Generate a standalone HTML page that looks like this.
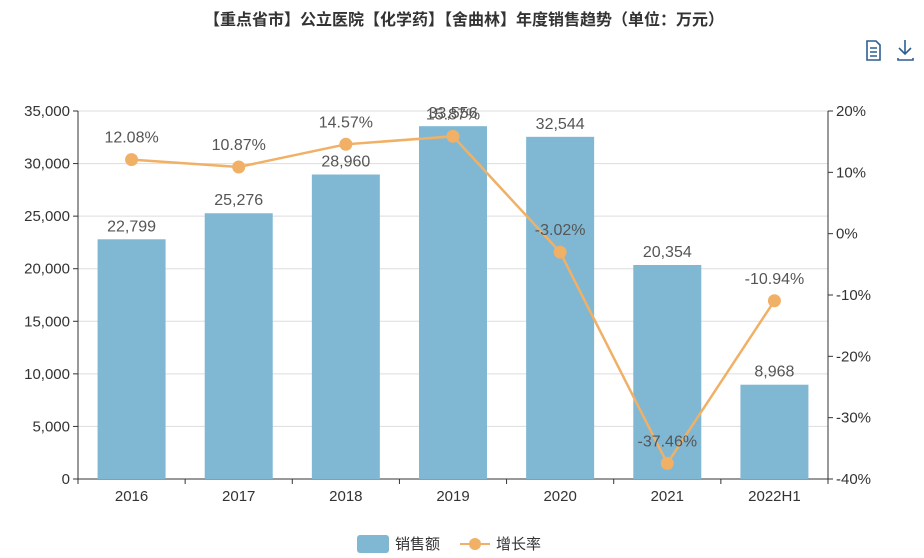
<!DOCTYPE html>
<html><head><meta charset="utf-8"><style>
body{margin:0;background:#fff;}
svg{display:block;font-family:"Liberation Sans","Noto Sans CJK SC",sans-serif;}
</style></head><body>
<svg id="c" width="924" height="558">
<text x="464" y="25" text-anchor="middle" font-size="16" font-weight="bold" fill="#333">【重点省市】公立医院【化学药】【舍曲林】年度销售趋势（单位：万元）</text>
<g fill="none" stroke="#2f5f8f" stroke-width="1.6">
<path d="M867 41h9l4 4v15h-13z"/><path d="M870 48h7M870 52h7M870 56h7"/></g>
<g fill="none" stroke="#2f5f8f" stroke-width="1.6">
<path d="M905 40v14M899 48l6 6 6-6M898 58v2h15v-2"/></g>
<g id="g"></g>
<g>
<rect x="357" y="535" width="32" height="18" rx="3" fill="#80b8d4"/>
<text x="395" y="549" font-size="15" fill="#333">销售额</text>
<line x1="460" y1="544" x2="490" y2="544" stroke="#f0b066" stroke-width="2"/>
<circle cx="475" cy="544" r="6" fill="#f0b066"/>
<text x="496" y="549" font-size="15" fill="#333">增长率</text>
</g>
</svg>
<script>
const categories=["2016","2017","2018","2019","2020","2021","2022H1"];
const sales=[22799,25276,28960,33556,32544,20354,8968];
const growth=[12.08,10.87,14.57,15.87,-3.02,-37.46,-10.94];
const leftTicks=[0,5000,10000,15000,20000,25000,30000,35000];
const rightTicks=[-40,-30,-20,-10,0,10,20];
const L=78,R=828,T=111,B=479;
const y1=v=>B-(v/35000)*(B-T);
const y2=v=>B-((v+40)/60)*(B-T);
const bw=(R-L)/categories.length;
const xc=i=>L+bw*(i+0.5);
const g=document.getElementById('g');
const NS='http://www.w3.org/2000/svg';
function mk(t,a){const e=document.createElementNS(NS,t);for(const k in a)e.setAttribute(k,a[k]);g.appendChild(e);return e;}
const fmt=n=>n.toLocaleString('en-US');
leftTicks.forEach(v=>{
 const l=mk('line',{x1:L,x2:R,y1:y1(v),y2:y1(v),stroke:v===0?'#333':'#ddd'});
 
 
 mk('line',{x1:L-5,x2:L,y1:y1(v),y2:y1(v),stroke:'#333'});
 const t=mk('text',{x:L-8,y:y1(v)+5,'text-anchor':'end','font-size':15,fill:'#333'});t.textContent=fmt(v);
 
 
});
rightTicks.forEach(v=>{
 mk('line',{x1:R,x2:R+5,y1:y2(v),y2:y2(v),stroke:'#333'});
 const t=mk('text',{x:R+8,y:y2(v)+5,'font-size':15,fill:'#333'});t.textContent=v+'%';
 
 
});
mk('line',{x1:L,x2:L,y1:T,y2:B,stroke:'#333'});
mk('line',{x1:R,x2:R,y1:T,y2:B,stroke:'#333'});
for(let i=0;i<=categories.length;i++)mk('line',{x1:L+bw*i,x2:L+bw*i,y1:B,y2:B+5,stroke:'#333'});
categories.forEach((c,i)=>{
 const r=mk('rect',{x:xc(i)-34,y:y1(sales[i]),width:68,height:B-y1(sales[i]),fill:'#80b8d4'});
 
 
 const t=mk('text',{x:xc(i),y:y1(sales[i])-8,'text-anchor':'middle','font-size':16,fill:'#555'});t.textContent=fmt(sales[i]);
 
 
 const x=mk('text',{x:xc(i),y:B+22,'text-anchor':'middle','font-size':15,fill:'#333'});x.textContent=c;
 
 
});
const p=mk('polyline',{points:growth.map((v,i)=>xc(i)+','+y2(v)).join(' '),fill:'none',stroke:'#f0b066','stroke-width':2.5});


growth.forEach((v,i)=>{
 const c=mk('circle',{cx:xc(i),cy:y2(v),r:6.5,fill:'#f0b066'});
 
 
 const t=mk('text',{x:xc(i),y:y2(v)-17,'text-anchor':'middle','font-size':16,fill:'#555'});t.textContent=v.toFixed(2)+'%';
 
 
});
</script>
</body></html>
